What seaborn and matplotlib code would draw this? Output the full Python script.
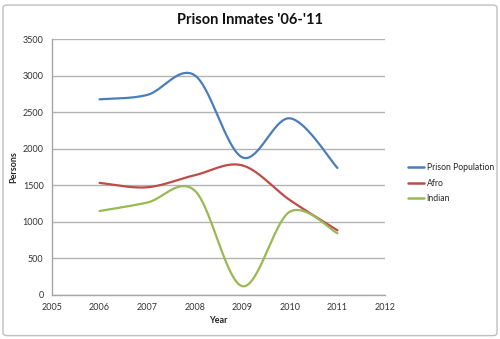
import numpy as np
import pandas as pd
import matplotlib
matplotlib.use("Agg")
import matplotlib.pyplot as plt
import seaborn as sns
from matplotlib.patches import FancyBboxPatch

years = [2006, 2007, 2008, 2009, 2010, 2011]
prison_population = [2680, 2740, 3010, 1885, 2420, 1740]
afro = [1535, 1475, 1640, 1775, 1300, 885]
indian = [1150, 1265, 1430, 120, 1140, 845]
series_names = ["Prison Population", "Afro", "Indian"]
colors = ["#4A7EBB", "#BE4B48", "#98B954"]
y_ticks = [0, 500, 1000, 1500, 2000, 2500, 3000, 3500]
x_ticks = [2005, 2006, 2007, 2008, 2009, 2010, 2011, 2012]


def smooth(xs, ys, n=40):
    """Excel-style Bezier smoothing through the given points."""
    xs = np.asarray(xs, float)
    ys = np.asarray(ys, float)
    px = np.concatenate([[xs[0]], xs, [xs[-1]]])
    py = np.concatenate([[ys[0]], ys, [ys[-1]]])
    ox, oy = [], []
    t = np.linspace(0, 1, n)
    for i in range(1, len(px) - 2):
        p0 = np.array([px[i], py[i]])
        p3 = np.array([px[i + 1], py[i + 1]])
        p1 = p0 + (np.array([px[i + 1], py[i + 1]]) - np.array([px[i - 1], py[i - 1]])) / 6
        p2 = p3 - (np.array([px[i + 2], py[i + 2]]) - np.array([px[i], py[i]])) / 6
        b = ((1 - t) ** 3)[:, None] * p0 + (3 * (1 - t) ** 2 * t)[:, None] * p1 \
            + (3 * (1 - t) * t ** 2)[:, None] * p2 + (t ** 3)[:, None] * p3
        if i > 1:
            b = b[1:]
        ox.extend(b[:, 0])
        oy.extend(b[:, 1])
    return ox, oy


frames = []
for name, vals in zip(series_names, [prison_population, afro, indian]):
    sx, sy = smooth(years, vals)
    frames.append(pd.DataFrame({"Year": sx, "Persons": sy, "Series": name}))
df = pd.concat(frames, ignore_index=True)

sns.set_style("white")
plt.rcParams["font.family"] = ["Lato", "DejaVu Sans"]

fig = plt.figure(figsize=(5.0, 3.39), dpi=100)
ax = fig.add_axes([0.104, 0.13, 0.666, 0.7535])

sns.lineplot(data=df, x="Year", y="Persons", hue="Series", hue_order=series_names,
             palette=colors, sort=False, estimator=None, units="Series",
             linewidth=1.6, ax=ax)

ax.set_xlim(2005, 2012)
ax.set_ylim(0, 3500)
ax.set_xticks(x_ticks)
ax.set_yticks(y_ticks)
ax.set_xticklabels([str(v) for v in x_ticks], fontsize=6.5, color="#333333")
ax.set_yticklabels([str(v) for v in y_ticks], fontsize=6.5, color="#333333")
ax.tick_params(length=0, pad=6)
ax.yaxis.grid(True, color="#b3b3b3", linewidth=1.0)
ax.xaxis.grid(False)
for s in ["top", "right"]:
    ax.spines[s].set_visible(False)
for s in ["left", "bottom"]:
    ax.spines[s].set_color("#a6a6a6")
    ax.spines[s].set_linewidth(1.0)

ax.set_xlabel("Year", fontsize=6.5, fontweight="bold", labelpad=2.5)
ax.set_ylabel("Persons", fontsize=6.5, fontweight="bold", labelpad=3)

fig.text(0.5, 0.94, "Prison Inmates '06-'11", ha="center", va="center",
         fontsize=10.5, fontweight="bold", color="#111111")

leg = ax.legend(loc="upper left", bbox_to_anchor=(0.816, 0.52),
                bbox_transform=fig.transFigure, frameon=False, fontsize=6.2,
                handlelength=1.85, handletextpad=0.3, labelspacing=0.8,
                borderaxespad=0, borderpad=0)
for line in leg.get_lines():
    line.set_linewidth(1.8)

border = FancyBboxPatch((0.006, 0.01), 0.988, 0.975, boxstyle="round,pad=0,rounding_size=0.008",
                        transform=fig.transFigure, fill=False, edgecolor="#bfbfbf",
                        linewidth=1.0)
fig.patches.append(border)

fig.savefig("out.png", dpi=100)
